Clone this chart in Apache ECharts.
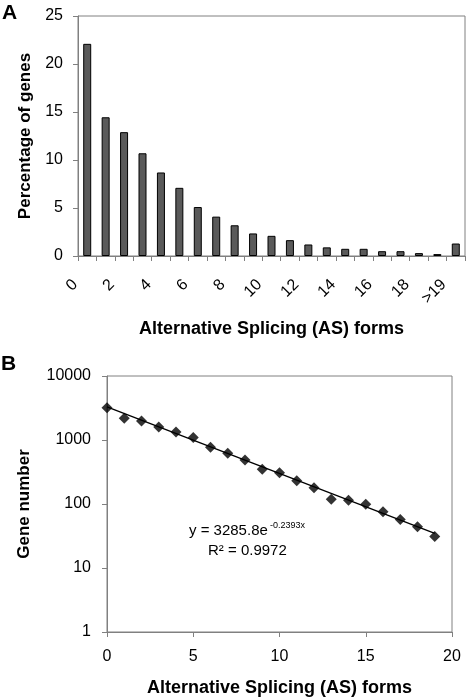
<!DOCTYPE html>
<html>
<head>
<meta charset="utf-8">
<script src="https://cdn.jsdelivr.net/npm/echarts@6/dist/echarts.min.js"></script>
<style>
html,body{margin:0;padding:0;background:#fff;}
#chart{width:466px;height:699px;}
</style>
</head>
<body>
<div id="chart"></div>
<script>
// Panel A data
const barCategories = ['0','1','2','3','4','5','6','7','8','9','10','11','12','13','14','15','16','17','18','19','>19'];
const barValues = [22.1,14.45,12.9,10.7,8.7,7.1,5.1,4.1,3.2,2.35,2.1,1.65,1.2,0.9,0.75,0.75,0.5,0.5,0.3,0.2,1.3];
const barYTicks = [0,5,10,15,20,25];

// Panel B data
const asForms = [0,1,2,3,4,5,6,7,8,9,10,11,12,13,14,15,16,17,18,19];
const geneNumbers = [3200,2190,1980,1600,1335,1090,770,620,486,348,308,231,179,119,114,99,76,57,44,31];
// trendline endpoints read from the fit y = 3285.8e^(-0.2393x)
const trendX = [0,19];
const trendY = [3285.8,34.8];
const logTicks = [1,10,100,1000,10000];

const FONT = '"Liberation Sans", Arial, sans-serif';
const chart = echarts.init(document.getElementById('chart'), null, {renderer:'canvas'});

const option = {
  backgroundColor:'#fff',
  animation:false,
  textStyle:{fontFamily:FONT},
  grid:[
    {left:78, top:16, right:1, bottom:443, show:true, borderColor:'#808080', borderWidth:1, backgroundColor:'#fff'},
    {left:107, top:376, right:14, bottom:67, show:true, borderColor:'#808080', borderWidth:1, backgroundColor:'#fff'}
  ],
  xAxis:[
    {
      gridIndex:0, type:'category', data:barCategories, boundaryGap:true,
      name:'Alternative Splicing (AS) forms', nameLocation:'middle', nameGap:64,
      nameTextStyle:{fontFamily:FONT, fontSize:18, fontWeight:'bold', color:'#000'},
      axisLine:{lineStyle:{color:'#808080', width:1}},
      axisTick:{show:true, interval:0, length:5, lineStyle:{color:'#808080'}},
      axisLabel:{interval:1, rotate:45, margin:14, padding:[0,17,0,0], fontFamily:FONT, fontSize:16, color:'#000'},
      splitLine:{show:false}
    },
    {
      gridIndex:1, type:'value', min:0, max:20, interval:5,
      name:'Alternative Splicing (AS) forms', nameLocation:'middle', nameGap:47,
      nameTextStyle:{fontFamily:FONT, fontSize:18, fontWeight:'bold', color:'#000'},
      axisLine:{lineStyle:{color:'#808080', width:1}},
      axisTick:{show:true, length:5, lineStyle:{color:'#808080'}},
      axisLabel:{margin:17, fontFamily:FONT, fontSize:16, color:'#000'},
      splitLine:{show:false}
    }
  ],
  yAxis:[
    {
      gridIndex:0, type:'value', min:barYTicks[0], max:barYTicks[barYTicks.length-1], interval:5,
      name:'Percentage of genes', nameLocation:'middle', nameGap:44,
      nameTextStyle:{fontFamily:FONT, fontSize:17, fontWeight:'bold', color:'#000'},
      axisLine:{show:true, lineStyle:{color:'#808080', width:1}},
      axisTick:{show:true, length:5, lineStyle:{color:'#808080'}},
      axisLabel:{margin:15, fontFamily:FONT, fontSize:16, color:'#000'},
      splitLine:{show:false}
    },
    {
      gridIndex:1, type:'log', logBase:10, min:logTicks[0], max:logTicks[logTicks.length-1],
      name:'Gene number', nameLocation:'middle', nameGap:74,
      nameTextStyle:{fontFamily:FONT, fontSize:17, fontWeight:'bold', color:'#000'},
      axisLine:{show:true, lineStyle:{color:'#808080', width:1}},
      axisTick:{show:true, length:5, lineStyle:{color:'#808080'}},
      axisLabel:{margin:16, fontFamily:FONT, fontSize:16, color:'#000',
        formatter:function(v){ return String(Math.round(v)); }},
      splitLine:{show:false},
      minorTick:{show:false}
    }
  ],
  series:[
    {
      type:'bar', xAxisIndex:0, yAxisIndex:0, data:barValues, barWidth:8,
      itemStyle:{color:'#5a5a5a', borderColor:'#000', borderWidth:1}
    },
    {
      type:'line', xAxisIndex:1, yAxisIndex:1,
      data:trendX.map((x,i)=>[x,trendY[i]]),
      symbol:'none', lineStyle:{color:'#000', width:1.3}, z:2
    },
    {
      type:'scatter', xAxisIndex:1, yAxisIndex:1,
      data:asForms.map((x,i)=>[x,geneNumbers[i]]),
      symbol:'diamond', symbolSize:[11,11], itemStyle:{color:'#000'}, z:3
    }
  ],
  graphic:[
    {type:'text', left:2, top:3, style:{text:'A', font:'bold 21px '+FONT, fill:'#000'}},
    {type:'text', left:1, top:354, style:{text:'B', font:'bold 21px '+FONT, fill:'#000'}},
    {type:'text', left:189, top:523, style:{text:'y = 3285.8e', font:'15px '+FONT, fill:'#000'}},
    {type:'text', left:270, top:521, style:{text:'-0.2393x', font:'9px '+FONT, fill:'#000'}},
    {type:'text', left:208, top:543, style:{text:'R² = 0.9972', font:'15px '+FONT, fill:'#000'}}
  ]
};
chart.setOption(option);
</script>
</body>
</html>
